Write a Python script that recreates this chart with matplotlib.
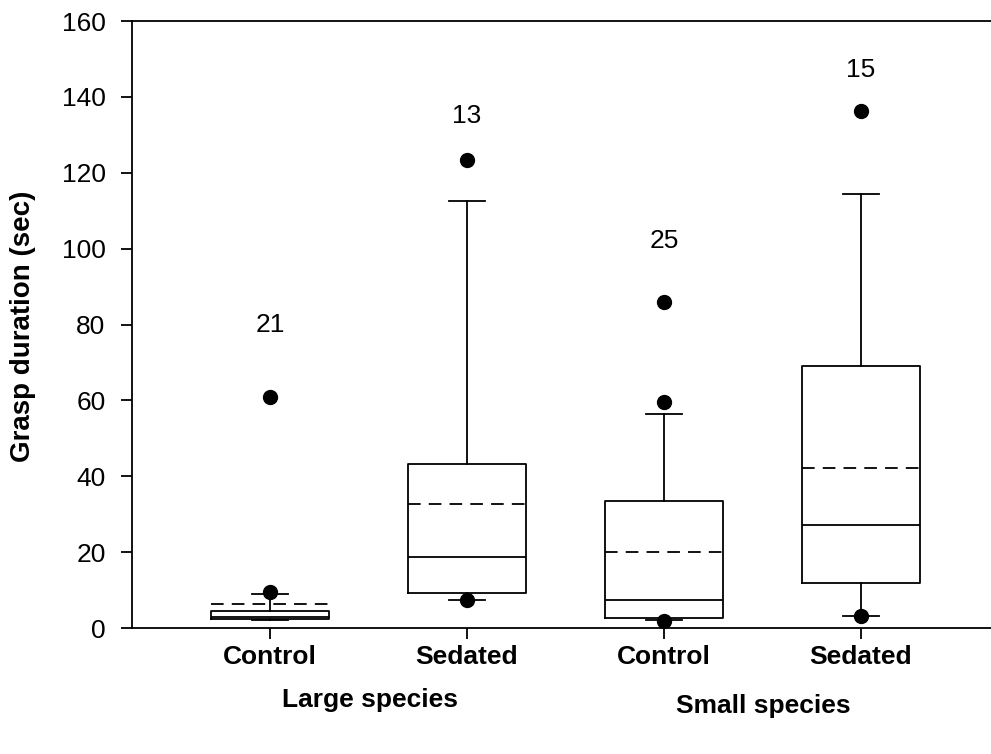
import matplotlib.pyplot as plt

plt.rcParams['font.family'] = ['Liberation Sans', 'DejaVu Sans']

groups = ['Control', 'Sedated', 'Control', 'Sedated']
species = ['Large species', 'Small species']
counts = [21, 13, 25, 15]
count_y = [80, 135, 102, 147]

q1 = [2.4, 9.2, 2.6, 11.9]
med = [2.8, 18.7, 7.4, 27.2]
q3 = [4.4, 43.3, 33.5, 69.0]
mean = [6.3, 32.6, 20.0, 42.3]
whislo = [2.1, 7.4, 2.1, 3.2]
whishi = [9.0, 112.5, 56.5, 114.5]
fliers = [[61.0, 9.5], [123.3, 7.3], [86.0, 59.5, 1.8], [136.2, 3.3]]

stats = []
for i in range(4):
    stats.append(dict(q1=q1[i], med=med[i], q3=q3[i], mean=mean[i],
                      whislo=whislo[i], whishi=whishi[i], fliers=fliers[i]))

fig = plt.figure(figsize=(9.91, 7.54), dpi=100)
ax = fig.add_axes([0.1332, 0.167, 0.8668, 0.805])

pos = [1, 2, 3, 4]
ax.bxp(stats, positions=pos, widths=0.6, showmeans=True, meanline=True,
       boxprops=dict(color='black', linewidth=1.3),
       medianprops=dict(color='black', linewidth=1.3),
       meanprops=dict(color='black', linewidth=1.3, linestyle=(0, (7, 4.5))),
       whiskerprops=dict(color='black', linewidth=1.3),
       capprops=dict(color='black', linewidth=1.3),
       capwidths=0.18,
       flierprops=dict(marker='o', markerfacecolor='black', markeredgecolor='black',
                       markersize=10))

# sample size above each box
for x, n, y in zip(pos, counts, count_y):
    ax.text(x, y, str(n), ha='center', va='center', fontsize=19)

ax.set_xlim(0.3, 4.66)
ax.set_ylim(0, 160)
ax.set_yticks(range(0, 161, 20))
ax.set_xticks(pos)
ax.set_xticklabels(groups, fontsize=19, fontweight='bold')
ax.tick_params(axis='y', labelsize=19, length=8, width=1.3, direction='out', pad=11)
ax.tick_params(axis='x', length=8, width=1.3, direction='out', pad=4)
ax.spines['right'].set_visible(False)
for s in ['left', 'top', 'bottom']:
    ax.spines[s].set_linewidth(1.3)

ax.set_ylabel('Grasp duration (sec)', fontsize=20, fontweight='bold', va='center')
ax.yaxis.set_label_coords(-0.127, 0.497)

fig.text(370 / 991, 1 - 700 / 754, species[0], ha='center', va='center',
         fontsize=19, fontweight='bold')
fig.text(763 / 991, 1 - 706 / 754, species[1], ha='center', va='center',
         fontsize=19, fontweight='bold')

fig.savefig('out.png', dpi=100)
